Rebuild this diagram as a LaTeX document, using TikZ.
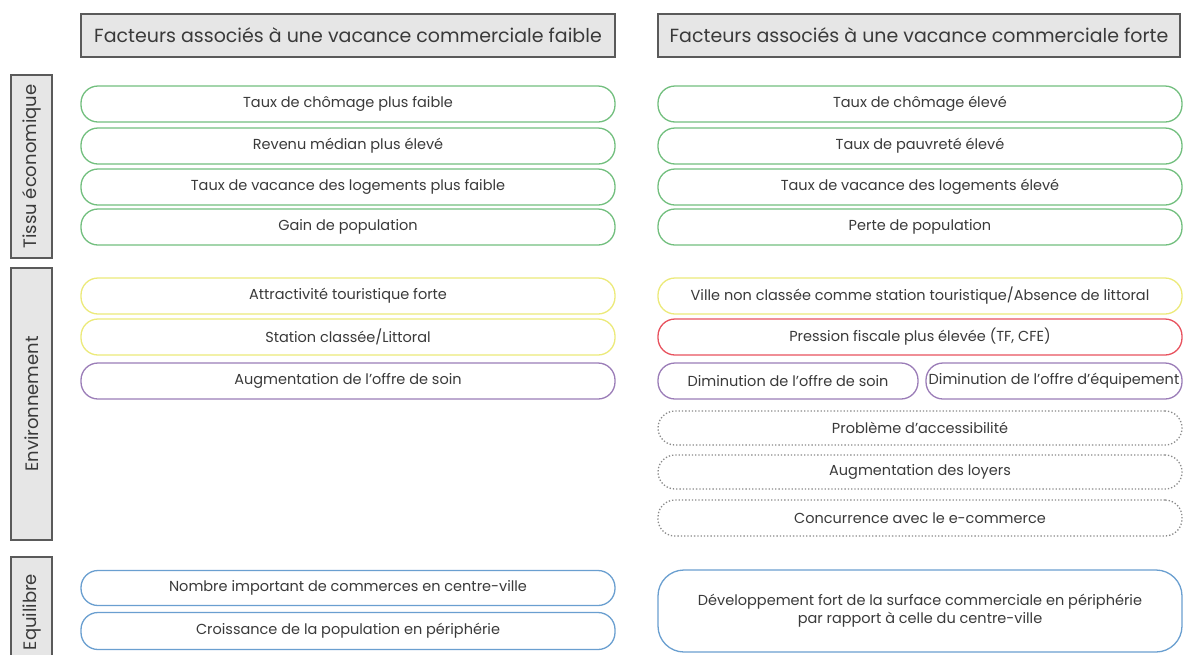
\documentclass[tikz,border=0pt]{standalone}
\usepackage{fontspec}
\setmainfont{Poppins}
\definecolor{txt}{HTML}{3A3A3A}
\definecolor{hdrfill}{HTML}{E6E6E6}
\definecolor{hdrline}{HTML}{5A5A5A}
\definecolor{pgreen}{HTML}{72BF7E}
\definecolor{pyellow}{HTML}{ECEA7A}
\definecolor{pred}{HTML}{E8525E}
\definecolor{ppurple}{HTML}{9B7DB8}
\definecolor{pblue}{HTML}{6A9FD0}
\definecolor{pgray}{HTML}{8A8A8A}
\tikzset{
  hdr/.style={draw=hdrline, fill=hdrfill, line width=1.4pt, inner sep=0pt, text=txt, font=\fontsize{19}{22}\selectfont},
  side/.style={draw=hdrline, fill=hdrfill, line width=1.6pt, inner sep=0pt, text=txt, font=\fontsize{18}{20}\selectfont},
  pill/.style={rounded corners=17pt, minimum height=36pt, inner sep=0pt, text=txt, line width=1.3pt, font=\fontsize{14.5}{18}\selectfont, align=center},
  lpill/.style={pill, minimum width=534pt},
  rpill/.style={pill, minimum width=524pt},
}
\begin{document}
\begin{tikzpicture}[x=1pt,y=-1pt]
\useasboundingbox[fill=white] (0,0) rectangle (1184,654);
% headers
\node[hdr, minimum width=534pt, minimum height=43pt] (hl) at (348,35.5) {Facteurs associés à une vacance commerciale faible};
\node[hdr, minimum width=522pt, minimum height=43pt] (hr) at (919,35.5) {Facteurs associés à une vacance commerciale forte};
% side labels
\node[side, minimum width=183pt, minimum height=41pt, rotate=90] (s1) at (31.5,166.5) {Tissu économique};
\node[side, minimum width=272pt, minimum height=41pt, rotate=90] (s2) at (31.5,404) {Environnement};
\node[side, minimum width=110pt, minimum height=41pt, rotate=90] (s3) at (31.5,612) {Equilibre};
% Tissu economique
\node[lpill, draw=pgreen] (l1) at (348,104) {Taux de chômage plus faible};
\node[lpill, draw=pgreen] (l2) at (348,146) {Revenu médian plus élevé};
\node[lpill, draw=pgreen] (l3) at (348,187) {Taux de vacance des logements plus faible};
\node[lpill, draw=pgreen] (l4) at (348,227) {Gain de population};
\node[rpill, draw=pgreen] (r1) at (920,104) {Taux de chômage élevé};
\node[rpill, draw=pgreen] (r2) at (920,146) {Taux de pauvreté élevé};
\node[rpill, draw=pgreen] (r3) at (920,187) {Taux de vacance des logements élevé};
\node[rpill, draw=pgreen] (r4) at (920,227) {Perte de population};
% Environnement
\node[lpill, draw=pyellow] (l5) at (348,296) {Attractivité touristique forte};
\node[lpill, draw=pyellow] (l6) at (348,337) {Station classée/Littoral};
\node[lpill, draw=ppurple] (l7) at (348,381) {Augmentation de l’offre de soin};
\node[rpill, draw=pyellow] (r5) at (920,296) {Ville non classée comme station touristique/Absence de littoral};
\node[rpill, draw=pred] (r6) at (920,337) {Pression fiscale plus élevée (TF, CFE)};
\node[pill, draw=ppurple, minimum width=260pt] (r7a) at (788,381) {Diminution de l’offre de soin};
\node[pill, draw=ppurple, minimum width=256pt] (r7b) at (1054,381) {Diminution de l’offre d’équipement};
\node[rpill, draw=pgray, dotted, minimum height=34pt] (r8) at (920,428) {Problème d’accessibilité};
\node[rpill, draw=pgray, dotted, minimum height=34pt] (r9) at (920,472) {Augmentation des loyers};
\node[rpill, draw=pgray, dotted, minimum height=36pt] (r10) at (920,518) {Concurrence avec le e-commerce};
% Equilibre
\node[lpill, draw=pblue, minimum height=35pt] (l8) at (348,588) {Nombre important de commerces en centre-ville};
\node[lpill, draw=pblue, minimum height=37pt] (l9) at (348,631) {Croissance de la population en périphérie};
\node[rpill, draw=pblue, minimum height=82pt, rounded corners=26pt] (r11) at (920,611) {Développement fort de la surface commerciale en périphérie\\par rapport à celle du centre-ville};
\end{tikzpicture}
\end{document}
